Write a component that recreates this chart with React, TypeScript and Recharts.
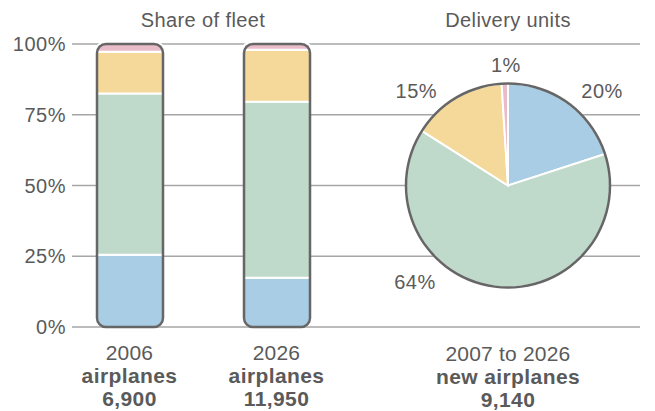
import React from "react";
import {
  BarChart,
  Bar,
  XAxis,
  YAxis,
  CartesianGrid,
  PieChart,
  Pie,
  Cell,
  Rectangle,
} from "recharts";

// share of fleet, percent of each year's fleet
const years = ["2006", "2026"];
const fleetTotals = ["6,900", "11,950"];
const regionalJets = [25.5, 17.4];
const singleAisle = [57, 62.2];
const twinAisle = [14.8, 18.4];
const largeJets = [2.7, 2.0];

// deliveries 2007 to 2026
const deliveryNames = ["Regional jets", "Single-aisle", "Twin-aisle", "747 and larger"];
const deliveryShares = [20, 64, 15, 1];
const deliveryTotal = "9,140";

const percentTicks = [0, 25, 50, 75, 100];

const colors = ["#a8cde4", "#bfd9cb", "#f4d99b", "#e8bcc8"];
const TEXT = "#5a5a5a";
const OUTLINE = "#666666";
const FONT = "'Liberation Sans', Arial, Helvetica, sans-serif";

const W = 655;
const H = 411;
const PLOT_LEFT = 72;
const PLOT_TOP = 44;
const AXIS_H = 84;
const PIE_CX = 508;
const PIE_CY = 185.5;
const PIE_R = 102;

// pie labels sit around the pie, not on the slice middles
const pieLabelAngle = [45, 226, 134, 91];
const pieLabelRadius = [133, 134, 132, 121];

const barData = years.map((year, i) => ({
  year,
  regional: regionalJets[i],
  single: singleAisle[i],
  twin: twinAisle[i],
  large: largeJets[i],
}));

const pieData = deliveryNames.map((name, i) => ({ name, value: deliveryShares[i] }));

function BarTick(props: any) {
  const { x, y, payload, index } = props;
  return (
    <g fontFamily={FONT} fill={TEXT} textAnchor="middle" fontSize={21}>
      <text x={x} y={y + 33} letterSpacing={0.2}>
        {payload.value}
      </text>
      <text x={x} y={y + 56} fontWeight="bold" letterSpacing={0.4}>
        airplanes
      </text>
      <text x={x} y={y + 79} fontWeight="bold" letterSpacing={0.4}>
        {fleetTotals[index]}
      </text>
    </g>
  );
}

// top segment also draws the rounded outline around the whole stack
function TopSegment(props: any) {
  const { x, y, width, height, fill, background, value } = props;
  const top = Array.isArray(value) ? value[1] - value[0] : value;
  const bg = background ?? {
    x,
    y,
    width,
    height: (height * 100) / top,
  };
  return (
    <g>
      <Rectangle
        x={x}
        y={y}
        width={width}
        height={height}
        fill={fill}
        stroke="#fff"
        strokeWidth={2}
        radius={[9, 9, 0, 0]}
      />
      <rect
        x={bg.x}
        y={bg.y}
        width={bg.width}
        height={bg.height}
        rx={9}
        ry={9}
        fill="none"
        stroke={OUTLINE}
        strokeWidth={2.5}
      />
    </g>
  );
}

function PieLabel(props: any) {
  const { cx, cy, index, value } = props;
  const a = (pieLabelAngle[index] * Math.PI) / 180;
  const r = pieLabelRadius[index];
  return (
    <text
      x={cx + r * Math.cos(a)}
      y={cy - r * Math.sin(a)}
      textAnchor="middle"
      dominantBaseline="central"
      fontFamily={FONT}
      fontSize={20}
      letterSpacing={0.5}
      fill={TEXT}
    >
      {value}%
    </text>
  );
}

export default function App() {
  return (
    <div
      style={{
        position: "absolute",
        left: 0,
        top: 0,
        width: W,
        height: H,
        background: "#fff",
        fontFamily: FONT,
      }}
    >
      <BarChart
        width={W}
        height={H}
        data={barData}
        margin={{ top: PLOT_TOP, right: 15, bottom: 0, left: 0 }}
        barSize={66}
      >
        <CartesianGrid vertical={false} stroke="#a6a6a6" strokeWidth={1.5} />
        <YAxis
          width={PLOT_LEFT}
          domain={[0, 100]}
          ticks={percentTicks}
          tickFormatter={(v: number) => `${v}%`}
          axisLine={false}
          tickLine={false}
          tickSize={0}
          tickMargin={6}
          tick={{ fill: TEXT, fontSize: 20, fontFamily: FONT, letterSpacing: 0.5 }}
        />
        <XAxis
          dataKey="year"
          height={AXIS_H}
          axisLine={false}
          tickLine={false}
          tickSize={0}
          tickMargin={0}
          interval={0}
          padding={{ left: -16, right: 290 }}
          tick={<BarTick />}
        />
        <Bar dataKey="regional" stackId="a" fill={colors[0]} stroke="#fff" strokeWidth={2} radius={[0, 0, 9, 9]} isAnimationActive={false} />
        <Bar dataKey="single" stackId="a" fill={colors[1]} stroke="#fff" strokeWidth={2} isAnimationActive={false} />
        <Bar dataKey="twin" stackId="a" fill={colors[2]} stroke="#fff" strokeWidth={2} isAnimationActive={false} />
        <Bar dataKey="large" stackId="a" fill={colors[3]} shape={TopSegment} isAnimationActive={false} />
        <text x={203} y={27} textAnchor="middle" fontFamily={FONT} fontSize={20} letterSpacing={0.4} fill={TEXT}>
          Share of fleet
        </text>
      </BarChart>

      <div style={{ position: "absolute", left: 0, top: 0 }}>
        <PieChart width={W} height={H} margin={{ top: 0, right: 0, bottom: 0, left: 0 }}>
          <Pie
            data={pieData}
            dataKey="value"
            nameKey="name"
            cx={PIE_CX}
            cy={PIE_CY}
            outerRadius={PIE_R}
            startAngle={90}
            endAngle={-270}
            stroke="#fff"
            strokeWidth={2}
            label={PieLabel}
            labelLine={false}
            isAnimationActive={false}
          >
            {pieData.map((d, i) => (
              <Cell key={d.name} fill={colors[i]} />
            ))}
          </Pie>
          <Pie
            data={[{ value: 1 }]}
            dataKey="value"
            cx={PIE_CX}
            cy={PIE_CY}
            innerRadius={PIE_R - 1.25}
            outerRadius={PIE_R + 1.25}
            startAngle={90}
            endAngle={-270}
            fill={OUTLINE}
            stroke="none"
            isAnimationActive={false}
          />
          <g fontFamily={FONT} fill={TEXT} textAnchor="middle" fontSize={21}>
            <text x={PIE_CX} y={27} fontSize={20} letterSpacing={0.4}>
              Delivery units
            </text>
            <text x={PIE_CX} y={361} letterSpacing={0.2}>
              2007 to 2026
            </text>
            <text x={PIE_CX} y={384} fontWeight="bold" letterSpacing={0.4}>
              new airplanes
            </text>
            <text x={PIE_CX} y={407} fontWeight="bold" letterSpacing={0.4}>
              {deliveryTotal}
            </text>
          </g>
        </PieChart>
      </div>
    </div>
  );
}
